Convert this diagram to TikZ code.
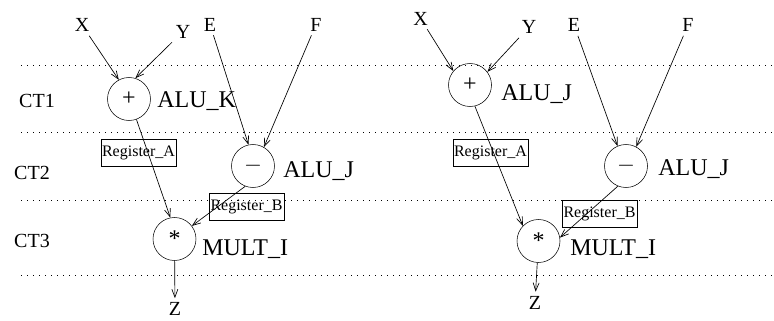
\documentclass[tikz,border=0pt]{standalone}
\usepackage{fontspec}
\setmainfont{Liberation Serif}
\usetikzlibrary{arrows.meta}

\tikzset{
  op/.style={draw, circle, minimum size=32.25pt, inner sep=0pt, font=\fontsize{18}{20}\selectfont},
  unit/.style={anchor=base west, inner sep=0pt, font=\fontsize{18}{20}\selectfont},
  sig/.style={inner sep=3pt, font=\fontsize{15}{17}\selectfont},
  reg/.style={draw, minimum width=56.25pt, minimum height=20.25pt, inner sep=0pt, font=\fontsize{12}{14}\selectfont},
  link/.style={-{Straight Barb[length=6pt,width=4.5pt]}, line width=0.5pt},
  stage/.style={dash pattern=on 0.75pt off 3.75pt, line width=0.6pt}
}

\begin{document}
\begin{tikzpicture}[x=0.75pt,y=-0.75pt]
  \useasboundingbox (0,0) rectangle (774,321);

  % control step boundaries
  \foreach \y in {65,132,200,275} \draw[stage] (21,\y) -- (774,\y);
  \node[sig] (ct1) at (37,101) {CT1};
  \node[sig] (ct2) at (32,173) {CT2};
  \node[sig] (ct3) at (32,241) {CT3};

  % first schedule
  \node[op] (add1) at (129,99) {+};
  \node[op] (sub1) at (253,166) {$-$};
  \node[op] (mul1) at (174.5,239) {\raisebox{-0.15em}{*}};
  \node[unit] (alu1) at (157,108) {ALU\_K};
  \node[unit] (alu2) at (283,177) {ALU\_J};
  \node[unit] (mult1) at (202,255) {MULT\_I};

  \node[sig] (x1) at (82,25) {X};
  \node[sig] (y1) at (183,31.5) {Y};
  \node[sig] (e1) at (210,24.5) {E};
  \node[sig] (f1) at (316,24.5) {F};
  \node[sig] (z1) at (175,309) {Z};

  \node[reg] (rega1) at (138.5,152.5) {Register\_A};
  \node[reg] (regb1) at (246.5,206.5) {Register\_B};

  \draw[link] (x1) -- (add1.118);
  \draw[link] (y1) -- (add1.73);
  \draw[link] (e1) -- (sub1.102);
  \draw[link] (f1) -- (sub1.60);
  \draw[link] (add1.-70) -- (mul1.101);
  \draw[link] (sub1.249) -- (mul1.37);
  \draw[link] (mul1) -- (z1);

  % second schedule
  \node[op] (add2) at (470,85) {+};
  \node[op] (sub2) at (626,166) {$-$};
  \node[op] (mul2) at (538.5,241) {\raisebox{-0.15em}{*}};
  \node[unit] (alu3) at (501,100) {ALU\_J};
  \node[unit] (alu4) at (658,175) {ALU\_J};
  \node[unit] (mult2) at (570,255) {MULT\_I};

  \node[sig] (x2) at (420.5,18.5) {X};
  \node[sig] (y2) at (529,27) {Y};
  \node[sig] (e2) at (574,25) {E};
  \node[sig] (f2) at (688,25) {F};
  \node[sig] (z2) at (535,302.5) {Z};

  \node[reg] (rega2) at (490.5,153) {Register\_A};
  \node[reg] (regb2) at (599.5,214) {Register\_B};

  \draw[link] (x2) -- (add2.140);
  \draw[link] (y2) -- (add2.37);
  \draw[link] (e2) -- (sub2.113);
  \draw[link] (f2) -- (sub2.62);
  \draw[link] (add2.283) -- (mul2.136);
  \draw[link] (sub2.248) -- (mul2.9);
  \draw[link] (mul2) -- (z2);
\end{tikzpicture}
\end{document}
